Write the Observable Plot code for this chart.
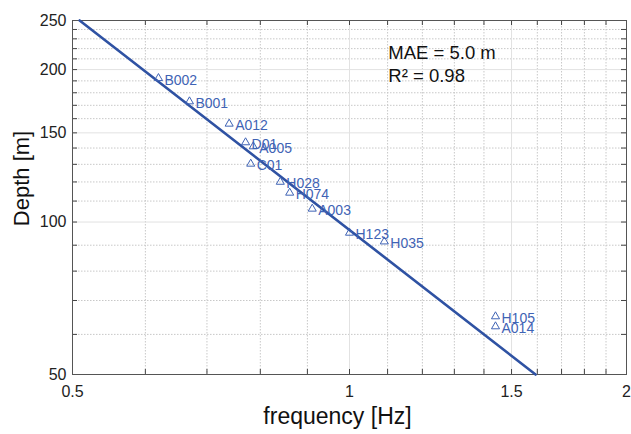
<!DOCTYPE html>
<html>
<head>
<meta charset="utf-8">
<script src="https://cdn.jsdelivr.net/npm/d3@7"></script>
<script src="https://cdn.jsdelivr.net/npm/@observablehq/plot@0.6"></script>
<style>
  html, body { margin: 0; padding: 0; background: #fff; }
  #chart svg { display: block; }
</style>
</head>
<body>
<div id="chart"></div>
<script>
// Site data
const sites = ["B002", "B001", "A012", "D01", "A005", "C01", "H028", "H074", "A003", "H123", "H035", "H105", "A014"];
const frequency = [0.620, 0.670, 0.740, 0.771, 0.786, 0.781, 0.841, 0.861, 0.911, 1.000, 1.091, 1.441, 1.441];
const depth = [192.3, 173.0, 156.3, 143.6, 141.0, 130.3, 120.0, 114.2, 106.2, 95.2, 91.5, 65.1, 62.2];

// Fitted power-law line endpoints
const fitFrequency = [0.509, 1.593];
const fitDepth = [250, 50];

// Axis ticks
const xMajorTicks = [0.5, 1, 1.5, 2];
const xTickLabels = ["0.5", "1", "1.5", "2"];
const xMinorTicks = [0.6, 0.7, 0.8, 0.9, 1.1, 1.2, 1.3, 1.4, 1.6, 1.7, 1.8, 1.9];
const yMajorTicks = [50, 100, 150, 200, 250];
const yTickLabels = ["50", "100", "150", "200", "250"];
const yMinorTicks = [60, 70, 80, 90, 110, 120, 130, 140, 160, 170, 180, 190, 210, 220, 230, 240];

// Annotation
const annotationLines = ["MAE = 5.0 m", "R\u00B2 = 0.98"];
const annotationX = [1.102, 1.102];
const annotationY = [213, 192];

const points = sites.map((s, i) => ({site: s, f: frequency[i], d: depth[i]}));
const fitLine = fitFrequency.map((f, i) => ({f, d: fitDepth[i]}));
const annotations = annotationLines.map((t, i) => ({t, f: annotationX[i], d: annotationY[i]}));

const W = 631, H = 434;
const mL = 72, mR = 5, mT = 20, mB = 60;
const innerH = H - mT - mB, innerW = W - mL - mR;
const tickLen = 5;

const lineColor = "#2f52a3";
const markColor = "#3f63b5";
const font = "'Liberation Sans', Arial, Helvetica, sans-serif";

const xFmt = d => xTickLabels[xMajorTicks.indexOf(d)];
const yFmt = d => yTickLabels[yMajorTicks.indexOf(d)];

const chart = Plot.plot({
  width: W,
  height: H,
  marginLeft: mL,
  marginRight: mR,
  marginTop: mT,
  marginBottom: mB,
  style: {fontFamily: font, background: "#fff", overflow: "visible"},
  x: {type: "log", domain: [0.5, 2], ticks: xMajorTicks, tickFormat: xFmt},
  y: {type: "log", domain: [50, 250], ticks: yMajorTicks, tickFormat: yFmt},
  marks: [
    // minor grid (dotted)
    Plot.ruleX(xMinorTicks, {x: d => d, stroke: "#c8c8c8", strokeWidth: 1, strokeDasharray: "1.5,1.5"}),
    Plot.ruleY(yMinorTicks, {y: d => d, stroke: "#c8c8c8", strokeWidth: 1, strokeDasharray: "1.5,1.5"}),
    // major grid (solid light)
    Plot.ruleX(xMajorTicks, {x: d => d, stroke: "#e2e2e2", strokeWidth: 1}),
    Plot.ruleY(yMajorTicks, {y: d => d, stroke: "#e2e2e2", strokeWidth: 1}),
    // inward ticks on four sides
    Plot.ruleX(xMajorTicks.concat(xMinorTicks), {x: d => d, insetTop: innerH - tickLen, stroke: "#444"}),
    Plot.ruleX(xMajorTicks.concat(xMinorTicks), {x: d => d, insetBottom: innerH - tickLen, stroke: "#444"}),
    Plot.ruleY(yMajorTicks.concat(yMinorTicks), {y: d => d, insetRight: innerW - tickLen, stroke: "#444"}),
    Plot.ruleY(yMajorTicks.concat(yMinorTicks), {y: d => d, insetLeft: innerW - tickLen, stroke: "#444"}),
    Plot.frame({stroke: "#555", strokeWidth: 1}),
    // tick labels
    Plot.axisX({ticks: xMajorTicks, tickFormat: xFmt, tickSize: 0, tickPadding: 11, fontSize: 16, color: "#222", label: null}),
    Plot.axisY({ticks: yMajorTicks, tickFormat: yFmt, tickSize: 0, tickPadding: 6, fontSize: 16, color: "#222", label: null}),
    // fit line
    Plot.line(fitLine, {x: "f", y: "d", stroke: lineColor, strokeWidth: 2.6}),
    // points
    Plot.dot(points, {x: "f", y: "d", symbol: "triangle", r: 3, stroke: markColor, strokeWidth: 1, fill: "none"}),
    Plot.text(points, {x: "f", y: "d", text: "site", textAnchor: "start", dx: 6, dy: 2, fill: markColor, fontSize: 14}),
    // annotation
    Plot.text(annotations, {x: "f", y: "d", text: "t", textAnchor: "start", lineAnchor: "bottom", fill: "#111", fontSize: 18.5, dy: 3}),
    // axis titles
    Plot.text(["frequency [Hz]"], {frameAnchor: "bottom", text: d => d, textAnchor: "middle", dx: -12, dy: 42, fontSize: 23, fill: "#111", lineAnchor: "middle"}),
    Plot.text(["Depth [m]"], {frameAnchor: "left", text: d => d, textAnchor: "middle", dx: -51, dy: -19, rotate: -90, fontSize: 22, fill: "#111", lineAnchor: "middle"})
  ]
});

document.getElementById("chart").appendChild(chart);
</script>
</body>
</html>
